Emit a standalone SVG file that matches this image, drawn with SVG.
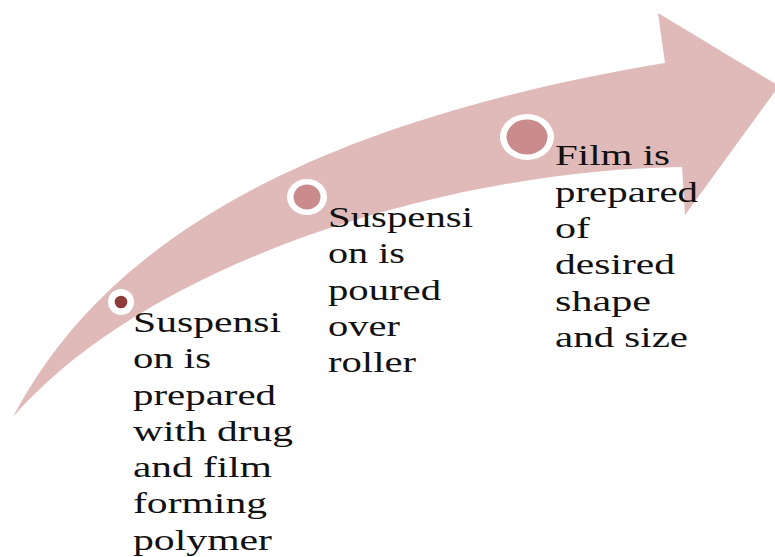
<svg xmlns="http://www.w3.org/2000/svg" width="775" height="557" viewBox="0 0 775 557">
  <style>
    .arrow { fill: #DFBAB9; }
    .ring { fill: #FFFFFF; }
    .dot { fill: #C98B8B; }
    .dot-dark { fill: #8E3B3B; }
    .label { font-family: "Liberation Serif", "Times New Roman", serif; font-size: 30px; fill: #111111; }
  </style>
  <rect width="775" height="557" fill="#FFFFFF"/>
  <g id="connectors">
    <path class="arrow" d="M13,417 C80,290 230,135 665,63 L658,13 L779,86 L685,215 L682,167 C450,170 150,260 13,417 Z"/>
  </g>
  <g id="step1">
    <circle class="ring" cx="121" cy="302" r="13"/>
    <circle class="dot-dark" cx="121" cy="302" r="6.3"/>
    <text class="label" lengthAdjust="spacingAndGlyphs">
      <tspan x="133" y="332" textLength="148" lengthAdjust="spacingAndGlyphs">Suspensi</tspan>
      <tspan x="133" y="368" textLength="78" lengthAdjust="spacingAndGlyphs">on is</tspan>
      <tspan x="133" y="405" textLength="143" lengthAdjust="spacingAndGlyphs">prepared</tspan>
      <tspan x="133" y="441" textLength="160" lengthAdjust="spacingAndGlyphs">with drug</tspan>
      <tspan x="133" y="477" textLength="139" lengthAdjust="spacingAndGlyphs">and film</tspan>
      <tspan x="133" y="513" textLength="134" lengthAdjust="spacingAndGlyphs">forming</tspan>
      <tspan x="133" y="550" textLength="139" lengthAdjust="spacingAndGlyphs">polymer</tspan>
    </text>
  </g>
  <g id="step2">
    <ellipse class="ring" cx="307" cy="197" rx="20" ry="18"/>
    <ellipse class="dot" cx="307" cy="197" rx="13.5" ry="12.5"/>
    <text class="label">
      <tspan x="328" y="227" textLength="145" lengthAdjust="spacingAndGlyphs">Suspensi</tspan>
      <tspan x="328" y="263" textLength="77" lengthAdjust="spacingAndGlyphs">on is</tspan>
      <tspan x="328" y="300" textLength="113" lengthAdjust="spacingAndGlyphs">poured</tspan>
      <tspan x="328" y="336" textLength="72" lengthAdjust="spacingAndGlyphs">over</tspan>
      <tspan x="328" y="372" textLength="88" lengthAdjust="spacingAndGlyphs">roller</tspan>
    </text>
  </g>
  <g id="step3">
    <ellipse class="ring" cx="527" cy="137" rx="27" ry="23"/>
    <ellipse class="dot" cx="527" cy="137" rx="20.5" ry="17.5"/>
    <text class="label">
      <tspan x="555" y="165" textLength="115" lengthAdjust="spacingAndGlyphs">Film is</tspan>
      <tspan x="555" y="202" textLength="143" lengthAdjust="spacingAndGlyphs">prepared</tspan>
      <tspan x="555" y="238" textLength="35" lengthAdjust="spacingAndGlyphs">of</tspan>
      <tspan x="555" y="274" textLength="120" lengthAdjust="spacingAndGlyphs">desired</tspan>
      <tspan x="555" y="311" textLength="96" lengthAdjust="spacingAndGlyphs">shape</tspan>
      <tspan x="555" y="347" textLength="133" lengthAdjust="spacingAndGlyphs">and size</tspan>
    </text>
  </g>
</svg>
